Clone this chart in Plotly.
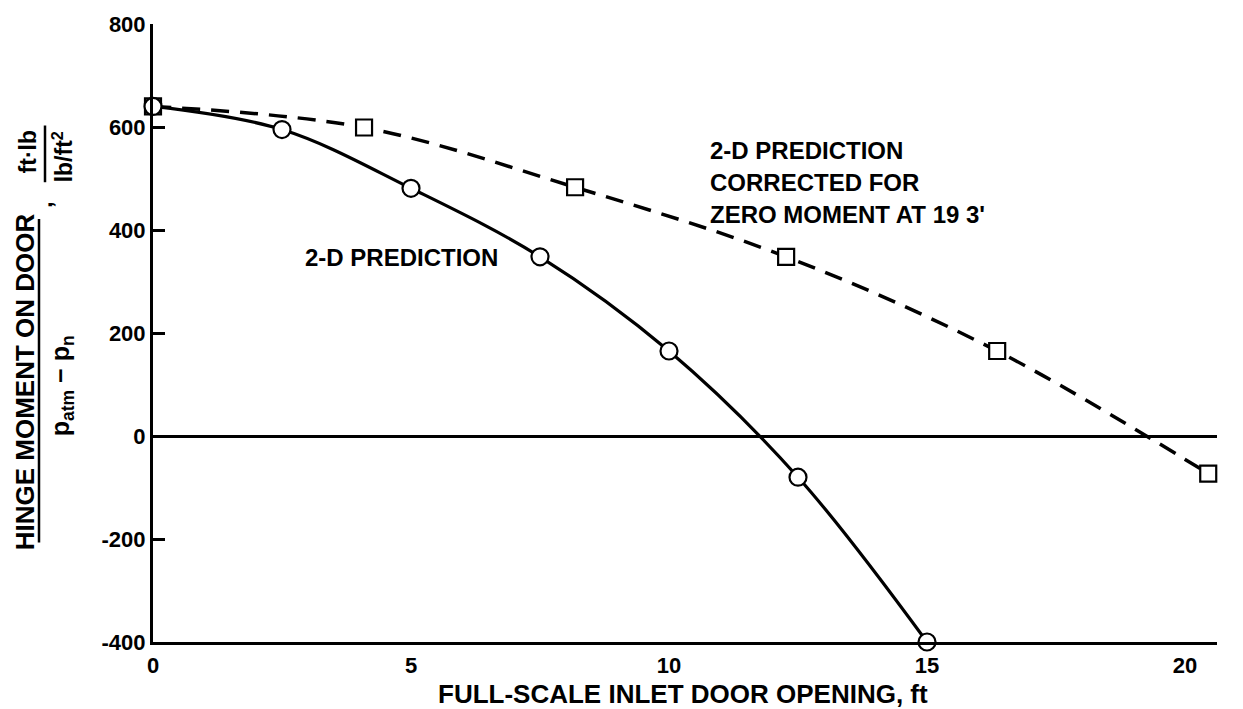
import plotly.graph_objects as go

# Door opening (ft) and hinge moment coefficient, 2-D prediction
opening_2d = [0, 2.5, 5.0, 7.5, 10.0, 12.5, 15.0]
moment_2d = [640, 595, 481, 348, 165, -80, -400]

# 2-D prediction rescaled so the moment is zero at 19.3 ft
opening_corr = [0, 4.09, 8.18, 12.27, 16.36, 20.45]
moment_corr = [640, 599, 483, 348, 165, -73]

x_ticks = [0, 5, 10, 15, 20]
y_ticks = [-400, -200, 0, 200, 400, 600, 800]

FONT = "Liberation Sans, Arial, sans-serif"
W, H = 1243, 709
M_L, M_R, M_T, M_B = 153, 26, 21, 67
PW, PH = W - M_L - M_R, H - M_T - M_B


def px(x):
    return (x - M_L) / PW


def py(y):
    return (H - M_B - y) / PH


fig = go.Figure()

# smooth curves
fig.add_trace(go.Scatter(
    x=opening_corr, y=moment_corr, mode="lines",
    line=dict(color="black", width=3.5, dash="18px,11px", shape="spline", smoothing=1.0),
    hoverinfo="skip", showlegend=False))
fig.add_trace(go.Scatter(
    x=opening_2d, y=moment_2d, mode="lines",
    line=dict(color="black", width=3.2, shape="spline", smoothing=1.0),
    hoverinfo="skip", showlegend=False))

# symbols
fig.add_trace(go.Scatter(
    x=opening_corr, y=moment_corr, mode="markers", cliponaxis=False,
    marker=dict(symbol="square", size=16, color="white", line=dict(color="black", width=2.2)),
    showlegend=False))
fig.add_trace(go.Scatter(
    x=opening_2d, y=moment_2d, mode="markers", cliponaxis=False,
    marker=dict(symbol="circle", size=17, color="white", line=dict(color="black", width=2.2)),
    showlegend=False))

tickfont = dict(family=FONT, size=22, color="black", weight="bold")
fig.update_xaxes(
    range=[0, 20.62], tickvals=x_ticks, ticktext=[str(v) for v in x_ticks],
    showline=True, linecolor="black", linewidth=3, mirror=False,
    ticks="", showgrid=False, zeroline=False, tickfont=tickfont, ticklabelstandoff=2,
)
fig.update_yaxes(
    range=[-400, 800], tickvals=y_ticks, ticktext=[str(v) for v in y_ticks],
    showline=True, linecolor="black", linewidth=3, mirror=False,
    ticks="inside", ticklen=12, tickwidth=2.5, tickcolor="black",
    showgrid=False, zeroline=True, zerolinecolor="black", zerolinewidth=3,
    tickfont=tickfont,
)


def label_font(size):
    return dict(family=FONT, size=size, color="black", weight="bold")


annotations = []

annotations.append(dict(x=px(303), y=py(256), xref="paper", yref="paper", text="2-D PREDICTION",
                        showarrow=False, xanchor="left", yanchor="middle", font=label_font(24)))

for i, line in enumerate(["2-D PREDICTION", "CORRECTED FOR", "ZERO MOMENT AT 19 3'"]):
    annotations.append(dict(x=px(708), y=py(148 + 32 * i), xref="paper", yref="paper",
                            text=line, showarrow=False,
                            xanchor="left", yanchor="middle", font=label_font(24)))

# x-axis title
annotations.append(dict(x=px(683), y=py(694), xref="paper", yref="paper",
                        text="FULL-SCALE INLET DOOR OPENING, ft", showarrow=False,
                        xanchor="center", yanchor="middle", font=label_font(26)))

# y-axis title built as a rotated fraction
annotations.append(dict(x=px(25), y=py(381), xref="paper", yref="paper",
                        text="HINGE MOMENT ON DOOR", textangle=-90, showarrow=False,
                        xanchor="center", yanchor="middle", font=label_font(26)))
annotations.append(dict(x=px(62), y=py(385), xref="paper", yref="paper",
                        text="p<sub>atm</sub> − p<sub>n</sub>", textangle=-90, showarrow=False,
                        xanchor="center", yanchor="middle", font=label_font(25)))
annotations.append(dict(x=px(43), y=py(203), xref="paper", yref="paper",
                        text=",", textangle=-90, showarrow=False,
                        xanchor="center", yanchor="middle", font=label_font(24)))
annotations.append(dict(x=px(28), y=py(150), xref="paper", yref="paper",
                        text="ft·lb", textangle=-90, showarrow=False,
                        xanchor="center", yanchor="middle", font=label_font(23)))
annotations.append(dict(x=px(63), y=py(155), xref="paper", yref="paper",
                        text="lb/ft<sup>2</sup>", textangle=-90, showarrow=False,
                        xanchor="center", yanchor="middle", font=label_font(23)))

shapes = [
    dict(type="line", xref="paper", yref="paper", x0=px(39), x1=px(39), y0=py(217), y1=py(542),
         line=dict(color="black", width=2.5)),
    dict(type="line", xref="paper", yref="paper", x0=px(45), x1=px(45), y0=py(123), y1=py(180),
         line=dict(color="black", width=2.5)),
]

fig.update_layout(
    width=W, height=H,
    margin=dict(l=M_L, r=M_R, t=M_T, b=M_B),
    paper_bgcolor="white", plot_bgcolor="white",
    annotations=annotations, shapes=shapes,
    showlegend=False,
)

fig.write_html("out.html")
